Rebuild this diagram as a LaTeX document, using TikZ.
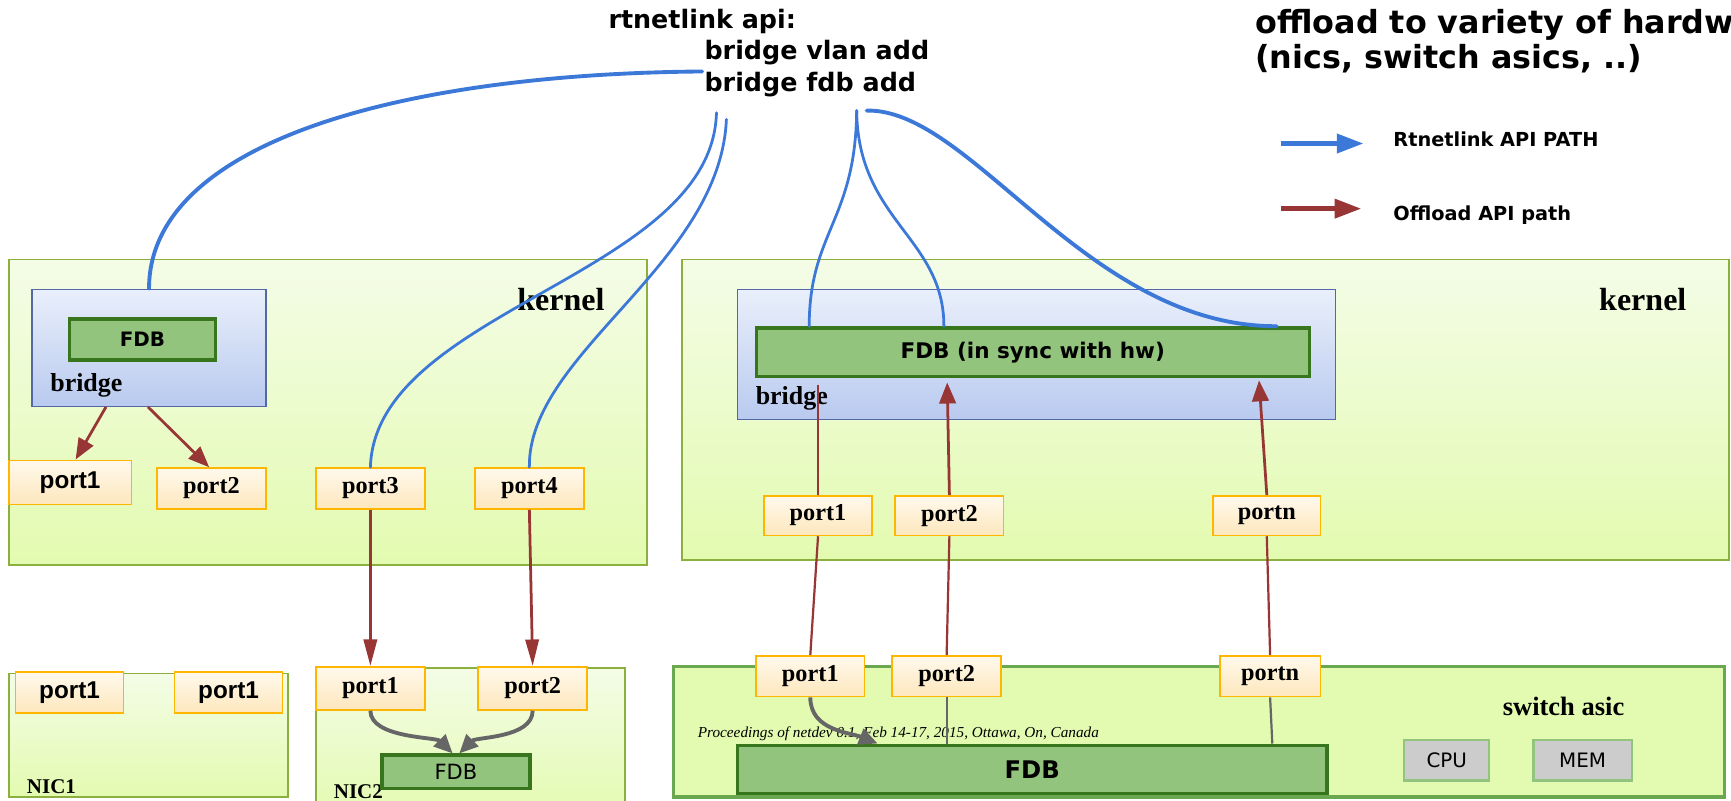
\documentclass[tikz,border=0pt]{standalone}
\usepackage{fontspec}
\setmainfont{Liberation Serif}
\newfontfamily\dejavu{DejaVu Sans}
\newfontfamily\libsans{Liberation Sans}
\usetikzlibrary{arrows.meta,calc}
\definecolor{azul}{RGB}{60,120,216}
\definecolor{vermelho}{RGB}{152,53,53}
\definecolor{cinza}{RGB}{102,102,102}
\definecolor{verdefdb}{RGB}{147,196,125}
\definecolor{verdeescuro}{RGB}{56,118,29}
\definecolor{verdeasic}{RGB}{106,168,79}
\definecolor{kerneltopo}{RGB}{244,252,231}
\definecolor{kernelbase}{RGB}{227,251,176}
\definecolor{kernelborda}{RGB}{140,176,62}
\definecolor{pontetopo}{RGB}{233,239,251}
\definecolor{pontebase}{RGB}{185,202,239}
\definecolor{ponteborda}{RGB}{84,104,168}
\definecolor{portatopo}{RGB}{255,249,236}
\definecolor{portabase}{RGB}{253,231,189}
\definecolor{portaborda}{RGB}{255,182,0}
\definecolor{chip}{RGB}{204,204,204}
\tikzset{%
  caixa/.style 2 args={minimum width=#1,minimum height=#2,inner sep=0pt},
  kernelq/.style={draw=kernelborda,line width=1.5pt,top color=kerneltopo,bottom color=kernelbase},
  asicq/.style={draw=verdeasic,line width=3pt,fill=kernelbase},
  ponteq/.style={draw=ponteborda,line width=1.2pt,top color=pontetopo,bottom color=pontebase},
  fdbq/.style={draw=verdeescuro,line width=3pt,fill=verdefdb,font=\dejavu\bfseries\fontsize{18pt}{20pt}\selectfont},
  portaq/.style={draw=portaborda,line width=1.5pt,top color=portatopo,bottom color=portabase,font=\bfseries\fontsize{22pt}{24pt}\selectfont},
  portas/.style={portaq,font=\libsans\bfseries\fontsize{22pt}{24pt}\selectfont},
  chipq/.style={draw=verdefdb,line width=2pt,fill=chip,font=\dejavu\fontsize{18pt}{20pt}\selectfont},
  rotulok/.style={font=\bfseries\fontsize{29pt}{31pt}\selectfont,anchor=north east,inner sep=0pt,xshift=-39pt,yshift=-27pt},
  rotulob/.style={font=\bfseries\fontsize{23.5pt}{25pt}\selectfont,anchor=south west,inner sep=0pt,xshift=17pt,yshift=9pt},
  rotulon/.style={font=\bfseries\fontsize{19pt}{21pt}\selectfont,anchor=south west,inner sep=0pt,xshift=17pt},
  titulo/.style={font=\dejavu\bfseries\fontsize{23pt}{28pt}\selectfont,inner sep=0pt,anchor=base west},
  titulog/.style={font=\dejavu\bfseries\fontsize{28.8pt}{32pt}\selectfont,inner sep=0pt,anchor=base west},
  legenda/.style={font=\dejavu\bfseries\fontsize{17.5pt}{20pt}\selectfont,inner sep=0pt,anchor=base west},
  api/.style={draw=azul,line width=2.5pt,line cap=round},
  apileg/.style={draw=azul,line width=4pt,-{Triangle[width=17pt,length=24pt]}},
  offload/.style={draw=vermelho,line width=2.5pt,-{Triangle[width=15pt,length=19pt]}},
  offloadleg/.style={draw=vermelho,line width=4pt,-{Triangle[width=17pt,length=24pt]}},
  offlinha/.style={draw=vermelho,line width=2pt},
  interno/.style={draw=cinza,line width=3.5pt,-{Triangle[width=15pt,length=17pt]}},
  internolinha/.style={draw=cinza,line width=2pt}
}
\begin{document}
\begin{tikzpicture}[x=1pt,y=-1pt]
  \useasboundingbox[fill=white] (0,0) rectangle (1568,725);

  % titulos
  \node[titulo] (rtapi) at (551,25.6) {rtnetlink api:};
  \node[titulo] (vlanadd) at (638,54) {bridge vlan add};
  \node[titulo] (fdbadd) at (638,83) {bridge fdb add};
  \node[titulog] (offl) at (1137,30) {offload to variety of hardw};
  \node[titulog] (nics) at (1137,62) {(nics, switch asics, ..)};

  % legenda
  \coordinate (leg1a) at (1160,130);
  \coordinate (leg1b) at (1235,130);
  \coordinate (leg2a) at (1160,189);
  \coordinate (leg2b) at (1233,189);
  \draw[apileg] (leg1a) -- (leg1b);
  \draw[offloadleg] (leg2a) -- (leg2b);
  \node[legenda] (legapi) at (1262,133) {Rtnetlink API PATH};
  \node[legenda] (legoff) at (1262,200) {Offload API path};

  % kernel esquerdo
  \node[kernelq,caixa={578pt}{277pt},label={[rotulok]north east:kernel}] (lkern) at (297,373.5) {};
  \node[ponteq,caixa={212pt}{106pt},label={[rotulob]south west:bridge}] (lbr) at (135,315) {};
  \node[fdbq,caixa={132pt}{37pt}] (lfdb) at (129,307.5) {FDB};
  \node[portas,caixa={111pt}{40pt}] (lp1) at (63.5,437) {port1};
  \node[portaq,caixa={99pt}{37pt}] (lp2) at (191.5,442.5) {port2};
  \node[portaq,caixa={99pt}{37pt}] (lp3) at (335.5,442.5) {port3};
  \node[portaq,caixa={99pt}{37pt}] (lp4) at (479.5,442.5) {port4};

  % kernel direito
  \node[kernelq,caixa={948pt}{272pt},label={[rotulok]north east:kernel}] (rkern) at (1092,371) {};
  \node[ponteq,caixa={542pt}{118pt},label={[rotulob]south west:bridge}] (rbr) at (939,321) {};
  \node[fdbq,caixa={501pt}{44pt},font=\dejavu\bfseries\fontsize{19.5pt}{22pt}\selectfont] (rfdb) at (935.5,319) {FDB (in sync with hw)};
  \node[portaq,caixa={98pt}{36pt}] (rp1) at (741,467) {port1};
  \node[portaq,caixa={98pt}{36pt}] (rp2) at (860,467) {port2};
  \node[portaq,caixa={97pt}{36pt}] (rpn) at (1147.5,467) {portn};

  % nics
  \node[kernelq,caixa={253pt}{112pt},label={[rotulon,yshift=4pt]south west:NIC1}] (nic1) at (134.5,666) {};
  \node[portas,caixa={98pt}{37pt}] (n1a) at (63,627.5) {port1};
  \node[portas,caixa={98pt}{37pt}] (n1b) at (207,627.5) {port1};
  \node[kernelq,caixa={280pt}{135pt},label={[rotulon,yshift=17pt]south west:NIC2}] (nic2) at (426,672.5) {};
  \node[portaq,caixa={99pt}{39pt}] (np1) at (335.5,623.5) {port1};
  \node[portaq,caixa={99pt}{39pt}] (np2) at (482.5,623.5) {port2};
  \node[fdbq,caixa={134pt}{30pt},font=\dejavu\fontsize{19pt}{21pt}\selectfont] (nfdb) at (413,699) {FDB};

  % switch asic
  \node[asicq,caixa={952pt}{118pt},label={[rotulok,font=\bfseries\fontsize{24pt}{26pt}\selectfont,xshift=-53pt,yshift=-2pt]north east:switch asic}] (sw) at (1086,663) {};
  \node[fdbq,caixa={534pt}{44pt},font=\dejavu\bfseries\fontsize{22pt}{24pt}\selectfont] (bfdb) at (935,697) {FDB};
  \node[chipq,caixa={77pt}{37pt}] (cpu) at (1310.5,688.5) {CPU};
  \node[chipq,caixa={89pt}{37pt}] (mem) at (1433.5,688.5) {MEM};
  \node[portaq,caixa={98pt}{37pt}] (sp1) at (734,612.5) {port1};
  \node[portaq,caixa={99pt}{37pt}] (sp2) at (857.5,612.5) {port2};
  \node[portaq,caixa={91pt}{37pt}] (spn) at (1150.5,612.5) {portn};
  \node[font=\itshape\fontsize{13.8pt}{15pt}\selectfont,inner sep=0pt,anchor=base west] (proc) at (632,668) {Proceedings of netdev 0.1, Feb 14-17, 2015, Ottawa, On, Canada};

  % caminho rtnetlink
  \draw[api,line width=3.5pt] ([xshift=-2pt,yshift=12pt]fdbadd.west) .. controls (360,67) and (135,130) .. (lbr.north);
  \draw[api] ([xshift=11pt,yshift=-14pt]fdbadd.south west) .. controls (645,250) and (340,280) .. (lp3.north);
  \draw[api] ([xshift=20pt,yshift=-20pt]fdbadd.south west) .. controls (652,240) and (478,320) .. (lp4.north);
  \draw[api] ([xshift=138pt,yshift=-12pt]fdbadd.south west) .. controls (775,200) and (733,210) .. ([xshift=-202.5pt]rfdb.north);
  \draw[api] ([xshift=138pt,yshift=-12pt]fdbadd.south west) .. controls (777,200) and (855,215) .. ([xshift=-80.5pt]rfdb.north);
  \draw[api,line width=3.5pt] ([xshift=147pt,yshift=-12pt]fdbadd.south west) .. controls (880,98) and (985,296) .. ([xshift=-31pt]rfdb.north east);

  % caminho offload
  \draw[offload] ([xshift=-39pt]lbr.south) -- ([xshift=5pt]lp1.north);
  \draw[offload] ([xshift=-1pt]lbr.south) -- ([xshift=-2pt]lp2.north);
  \draw[offload,-{Triangle[width=12pt,length=24pt]}] (lp3.south) -- (np1.north);
  \draw[offload,-{Triangle[width=12pt,length=24pt]}] (lp4.south) -- (np2.north);
  \draw[offlinha,line width=2.5pt] (rp1.north) -- ([yshift=-6pt]rp1.north |- rfdb.south);
  \draw[offload] (rp2.north) -- ([xshift=-2pt,yshift=-4pt]rp2.north |- rfdb.south);
  \draw[offload] (rpn.north) -- ([xshift=-7pt,yshift=-2pt]rpn.north |- rfdb.south);
  \draw[offlinha] (sp1.north) -- (rp1.south);
  \draw[offlinha] (sp2.north) -- (rp2.south);
  \draw[offlinha] (spn.north) -- (rpn.south);

  % caminho interno do hw
  \draw[interno] (np1.south) .. controls +(0,25) and +(-15,-15) .. ([xshift=-3pt]nfdb.north);
  \draw[interno] (np2.south) .. controls +(0,25) and +(15,-15) .. ([xshift=3pt]nfdb.north);
  \draw[interno] (sp1.south) .. controls +(0,30) and +(-25,-10) .. ([xshift=-140pt]bfdb.north);
  \draw[internolinha] (sp2.south) -- (sp2.south |- bfdb.north);
  \draw[internolinha] (spn.south) -- ([xshift=2pt]spn.south |- bfdb.north);
\end{tikzpicture}
\end{document}
